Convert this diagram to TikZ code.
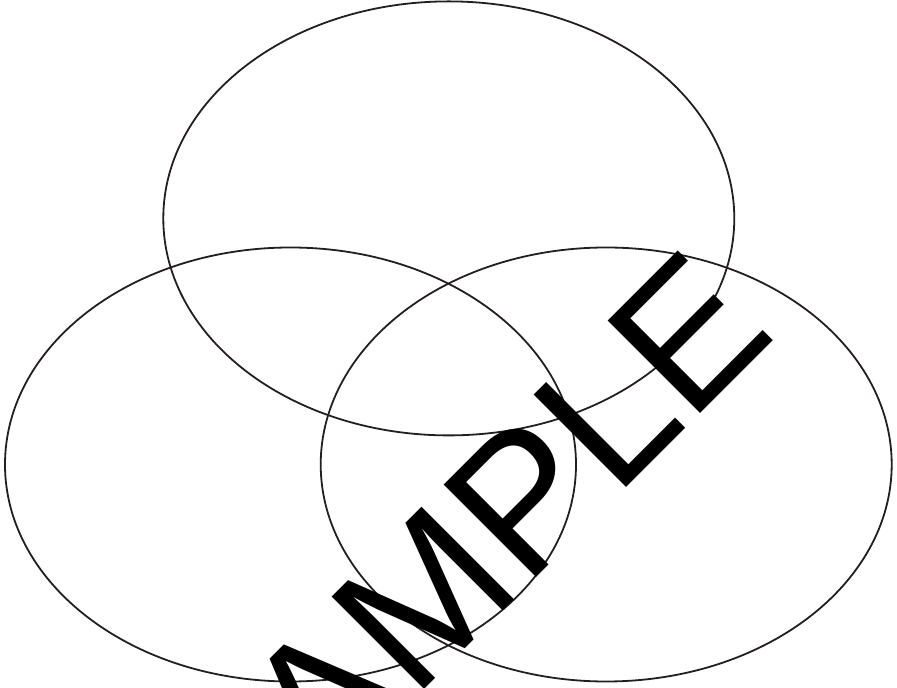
\documentclass[tikz,border=0pt]{standalone}
\usepackage{fontspec}
\setmainfont{Liberation Sans}
\usepackage{xcolor}
\usepackage{tikz}
\definecolor{rimdark}{RGB}{35,31,32}
\tikzset{
  vennrim/.style={draw=rimdark, line width=1.8pt},
  stamp/.style={font=\fontsize{190}{190}\selectfont, text=black, inner sep=0pt, rotate=45, anchor=base}
}

\begin{document}
\begin{tikzpicture}[x=1pt, y=1pt]
% Page frame in pixel units (897 x 688), y up from the bottom edge.
\useasboundingbox (0,0) rectangle (897,688);
\clip (0,0) rectangle (897,688);
% Three overlapping ellipses: one on top, two side by side below it.
\def\rx{285.5}
\def\ry{217}
\draw[vennrim] (448.8,469.6) ellipse [x radius=\rx, y radius=\ry];
\draw[vennrim] (290.5,223.5) ellipse [x radius=\rx, y radius=\ry];
\draw[vennrim] (606.2,223.5) ellipse [x radius=\rx, y radius=\ry];
% Watermark running up to the right, its first letter cut off by the page edge.
\node[stamp] (mark) at (507,81) {SAMPLE};
\end{tikzpicture}
\end{document}
